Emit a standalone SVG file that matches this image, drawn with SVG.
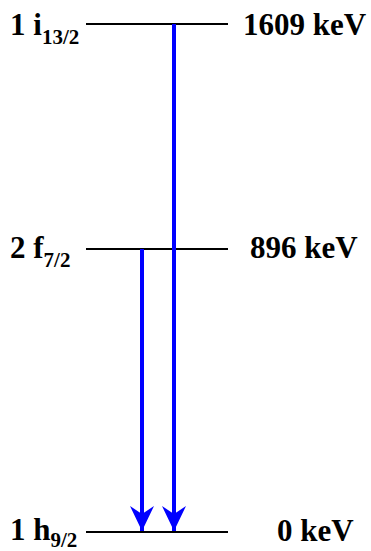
<svg xmlns="http://www.w3.org/2000/svg" width="371" height="551" viewBox="0 0 371 551">
<style>
.lvl{stroke:#000;stroke-width:2}
.t{font-family:"Liberation Serif","Times New Roman",serif;font-weight:bold;font-size:31px;fill:#000}
.s{font-size:21px}
.arr{stroke:#0000ff;stroke-width:4;fill:none}
</style>
<defs>
<marker id="ah" markerUnits="userSpaceOnUse" markerWidth="26" markerHeight="26" viewBox="0 0 26 26" refX="25" refY="13" orient="auto">
<path d="M0,1 L25,13 L0,25 L8,13 Z" fill="#0000ff"/>
</marker>
</defs>
<g id="level-1609">
<line class="lvl" x1="86" y1="24" x2="228" y2="24"/>
<text class="t" x="10" y="35">1 i<tspan class="s" dy="9">13/2</tspan></text>
<text class="t" x="243" y="35">1609 keV</text>
</g>
<g id="level-896">
<line class="lvl" x1="86" y1="249" x2="228" y2="249"/>
<text class="t" x="10" y="258">2 f<tspan class="s" dy="9">7/2</tspan></text>
<text class="t" x="250" y="258">896 keV</text>
</g>
<g id="level-0">
<line class="lvl" x1="86" y1="532" x2="228" y2="532"/>
<text class="t" x="10" y="540">1 h<tspan class="s" dy="7">9/2</tspan></text>
<text class="t" x="277" y="541">0 keV</text>
</g>
<g id="connectors">
<line class="arr" x1="142" y1="249" x2="142" y2="531" marker-end="url(#ah)"/>
<line class="arr" x1="174" y1="24" x2="174" y2="531" marker-end="url(#ah)"/>
</g>
</svg>
